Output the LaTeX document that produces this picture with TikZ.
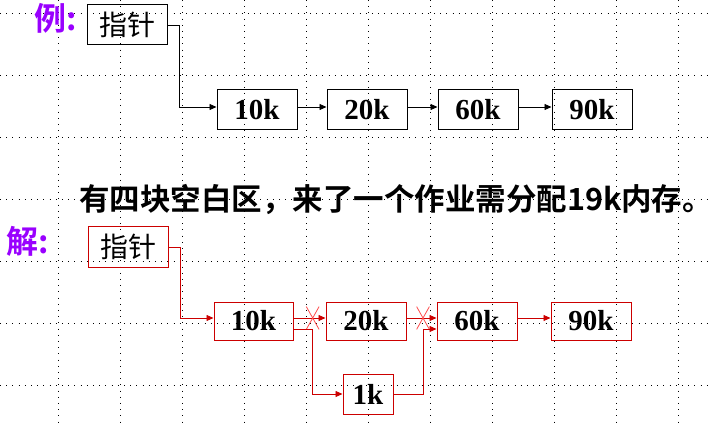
\documentclass[tikz,border=0pt]{standalone}
\usepackage{fontspec}
\setmainfont{Liberation Serif}
\newfontfamily\cjk{Noto Sans CJK SC}[BoldFont=* Bold]
\usetikzlibrary{arrows.meta, positioning, shapes.misc}
\definecolor{LabelPurple}{rgb}{0.6, 0.0, 1.0}
\definecolor{DeepRed}{rgb}{0.8, 0.0, 0.0}
\definecolor{CrossRed}{rgb}{1.0, 0.3, 0.3}

\begin{document}
\begin{tikzpicture}[
    x=1pt, y=-1pt,
    grid/.style={line width=0.9pt, dash pattern=on 0.9pt off 5.3pt},
    cell/.style={draw, line width=1pt, minimum width=80pt, minimum height=40pt,
        inner sep=0pt, font=\bfseries\fontsize{29}{29}\selectfont},
    ptr/.style={draw, line width=1pt, minimum width=80pt, minimum height=40pt,
        inner sep=0pt, font=\cjk\fontsize{28}{28}\selectfont},
    tag/.style={text=LabelPurple, inner sep=0pt, anchor=west,
        font=\cjk\bfseries\fontsize{32}{32}\selectfont},
    link/.style={-{Triangle[length=7pt, width=6pt]}, line width=0.8pt},
    cutmark/.style={cross out, draw=CrossRed, line width=0.8pt,
        minimum width=12pt, minimum height=22pt, inner sep=0pt},
]
\useasboundingbox (0,0) rectangle (713,425);

% grid
\foreach \gx in {58,120,...,678}
    \draw[grid] (\gx,0) -- (\gx,425);
\foreach \gy in {13,75,...,385}
    \draw[grid] (0,\gy) -- (713,\gy);

% example
\node[tag] (ex) at (34,18) {例:};
\node[ptr] (ptrA) at (127,25) {指针};
\node[cell] (a10) at (257,110) {10k};
\node[cell, right=29pt of a10] (a20) {20k};
\node[cell, right=30pt of a20] (a60) {60k};
\node[cell, right=33pt of a60] (a90) {90k};

\draw[link] (ptrA.east) -- ++(12,0) |- ([yshift=3pt]a10.west);
\foreach \a/\b in {a10/a20, a20/a60, a60/a90}
    \draw[link] ([yshift=3pt]\a.east) -- ([yshift=3pt]\b.west);

% task
\node[font=\cjk\bfseries\fontsize{30.5}{30.5}\selectfont, inner sep=0pt] (task) at (396,200)
    {有四块空白区，来了一个作业需分配19k内存。};

% solution
\node[tag] (sol) at (6,241) {解:};
\begin{scope}[every node/.append style={draw=DeepRed}, link/.append style={DeepRed}]
\node[ptr] (ptrB) at (128.5,247) {指针};
\node[cell, minimum width=79pt, minimum height=38pt] (b10) at (253.5,321) {10k};
\node[cell, minimum height=38pt, right=32pt of b10] (b20) {20k};
\node[cell, minimum height=38pt, right=30pt of b20] (b60) {60k};
\node[cell, minimum height=38pt, right=33pt of b60] (b90) {90k};
\node[cell, minimum width=50pt] (b1) at (368,394) {1k};

\draw[link] (ptrB.east) -- ++(11,0) |- ([yshift=3pt]b10.west);
\draw[link] ([yshift=3pt]b10.east) -- node[cutmark, pos=0.6] (cutA) {} ([yshift=3pt]b20.west);
\draw[link] ([yshift=3pt]b20.east) -- node[cutmark, pos=0.55] (cutB) {} ([yshift=3pt]b60.west);
\draw[link] ([yshift=3pt]b60.east) -- ([yshift=3pt]b90.west);
\draw[link] ([yshift=-8pt]b10.east) -- ++(19,0) |- (b1.west);
\draw[link] (b1.east) -- ++(30,0) |- ([yshift=-8pt]b60.west);
\end{scope}

\end{tikzpicture}
\end{document}
